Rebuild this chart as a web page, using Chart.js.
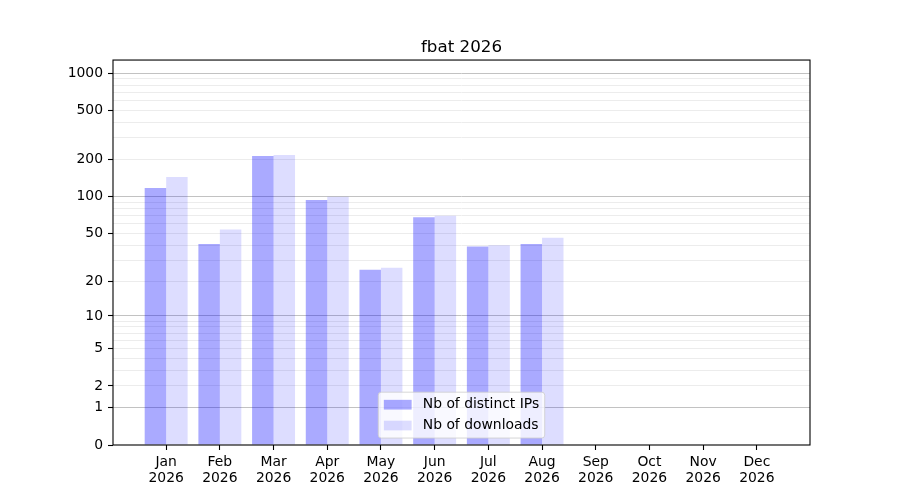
<!DOCTYPE html>
<html>
<head>
<meta charset="utf-8">
<title>fbat 2026</title>
<script src="https://cdn.jsdelivr.net/npm/chart.js@4.4.1/dist/chart.umd.min.js"></script>
<style>
  html, body { margin: 0; padding: 0; background: #fff; }
  #chart { display: block; }
</style>
</head>
<body>
<canvas id="chart" width="900" height="500"></canvas>
<script>
const TITLE = 'fbat 2026';
const YEAR = '2026';
const MONTHS = ['Jan', 'Feb', 'Mar', 'Apr', 'May', 'Jun', 'Jul', 'Aug', 'Sep', 'Oct', 'Nov', 'Dec'];
const SERIES_LABELS = ['Nb of distinct IPs', 'Nb of downloads'];

// Jan..Aug only, the rest of the year has no data yet
const DISTINCT_IPS = [118, 41, 214, 94, 25, 68, 39, 41];
const DOWNLOADS    = [145, 54, 218, 100, 26, 70, 40, 46];

const Y_MIN = 0;
const Y_MAX = 1280;
const Y_LABELED = [0, 1, 2, 5, 10, 20, 50, 100, 200, 500, 1000];
const Y_DECADES = [1, 10, 100, 1000];
const Y_MINOR   = [2, 3, 4, 5, 6, 7, 8, 9,
                   20, 30, 40, 50, 60, 70, 80, 90,
                   200, 300, 400, 500, 600, 700, 800, 900];

const FS = 13.9;
const FONT = 'DejaVu Sans';
const COLOR_IPS = 'rgba(0,0,255,0.333)';
const COLOR_DL  = 'rgba(0,0,255,0.133)';

// y axis is log10(1 + v), like matplotlib's function scale
class Log1pScale extends Chart.LinearScale {
  static id = 'log1p';
  static defaults = {};

  buildTicks() {
    const vals = Array.from(new Set([0, ...Y_DECADES, ...Y_MINOR])).sort((a, b) => a - b);
    return vals.filter(v => v >= this.min && v <= this.max).map(v => ({ value: v }));
  }
  configure() {
    super.configure();
    this._t0 = Math.log10(1 + this.min);
    this._t1 = Math.log10(1 + this.max);
  }
  getPixelForValue(value) {
    if (value === undefined || value === null || isNaN(value)) return NaN;
    return this.getPixelForDecimal((Math.log10(1 + value) - this._t0) / (this._t1 - this._t0));
  }
  getValueForPixel(pixel) {
    const d = this.getDecimalForPixel(pixel);
    return Math.pow(10, this._t0 + d * (this._t1 - this._t0)) - 1;
  }
}
Chart.register(Log1pScale);

const framePlugin = {
  id: 'frame',
  afterDatasetsDraw(chart) {
    const { ctx, chartArea: a } = chart;
    ctx.save();
    ctx.strokeStyle = '#000';
    ctx.lineWidth = 1.1;
    ctx.strokeRect(a.left, a.top, a.right - a.left, a.bottom - a.top);
    ctx.restore();
  }
};

// matplotlib-like legend, lower center inside the axes
const boxLegendPlugin = {
  id: 'boxLegend',
  afterDraw(chart) {
    const { ctx, chartArea: a } = chart;
    const pad = 0.4 * FS, handleLen = 2 * FS, handleH = 0.7 * FS;
    const textPad = 0.8 * FS, spacing = 0.5 * FS, rowH = FS;
    ctx.save();
    ctx.font = `${FS}px "${FONT}"`;
    const items = chart.data.datasets.map(ds => ({ label: ds.label, color: ds.backgroundColor }));
    const textW = Math.max(...items.map(it => ctx.measureText(it.label).width));
    const w = 2 * pad + handleLen + textPad + textW;
    const h = 2 * pad + items.length * rowH + (items.length - 1) * spacing;
    const x = (a.left + a.right) / 2 - w / 2;
    const y = a.bottom - 0.5 * FS - h;

    ctx.beginPath();
    ctx.roundRect(x, y, w, h, 3);
    ctx.fillStyle = 'rgba(255,255,255,0.8)';
    ctx.fill();
    ctx.strokeStyle = 'rgba(204,204,204,0.8)';
    ctx.lineWidth = 1;
    ctx.stroke();

    items.forEach((it, i) => {
      const cy = y + pad + rowH / 2 + i * (rowH + spacing);
      ctx.fillStyle = it.color;
      ctx.fillRect(x + pad, cy - handleH / 2, handleLen, handleH);
      ctx.fillStyle = '#000';
      ctx.textBaseline = 'middle';
      ctx.textAlign = 'left';
      ctx.fillText(it.label, x + pad + handleLen + textPad, cy);
    });
    ctx.restore();
  }
};

Chart.defaults.font.family = FONT;
Chart.defaults.font.size = FS;
Chart.defaults.color = '#000';

new Chart(document.getElementById('chart'), {
  type: 'bar',
  data: {
    datasets: [
      {
        label: SERIES_LABELS[0],
        data: DISTINCT_IPS.map((v, i) => ({ x: i, y: v })),
        backgroundColor: COLOR_IPS,
        borderWidth: 0,
      },
      {
        label: SERIES_LABELS[1],
        data: DOWNLOADS.map((v, i) => ({ x: i, y: v })),
        backgroundColor: COLOR_DL,
        borderWidth: 0,
      },
    ],
  },
  options: {
    responsive: false,
    animation: false,
    events: [],
    layout: { padding: { left: 0, right: 90, top: 0, bottom: 0 } },
    datasets: { bar: { barPercentage: 1, categoryPercentage: 0.8 } },
    plugins: {
      legend: { display: false },
      tooltip: { enabled: false },
      title: {
        display: true,
        text: TITLE,
        fullSize: false,
        color: '#000',
        font: { size: 16.7, weight: 'normal', lineHeight: 1.2 },
        padding: { top: 38, bottom: 2 },
      },
    },
    scales: {
      x: {
        type: 'linear',
        min: -0.99,
        max: 11.99,
        offset: false,
        afterBuildTicks: axis => { axis.ticks = MONTHS.map((m, i) => ({ value: i })); },
        afterFit: axis => { axis.height = 55; },
        border: { display: false },
        grid: {
          offset: false,
          drawOnChartArea: false,
          drawTicks: true,
          tickLength: 5,
          tickColor: '#000',
          tickWidth: 1.1,
        },
        ticks: {
          autoSkip: false,
          maxRotation: 0,
          padding: 4,
          color: '#000',
          font: { size: FS, lineHeight: 1.15 },
          callback: v => [MONTHS[v], YEAR],
        },
      },
      y: {
        type: 'log1p',
        min: Y_MIN,
        max: Y_MAX,
        afterFit: axis => { axis.width = 113; },
        border: { display: false },
        grid: {
          color: c => c.tick.value === 0 ? 'rgba(0,0,0,0)' :
                      (Y_DECADES.includes(c.tick.value) ? '#c2c2c2' : '#ececec'),
          lineWidth: 1,
          drawTicks: true,
          tickLength: 5,
          tickWidth: 1.1,
          tickColor: c => Y_LABELED.includes(c.tick.value) ? '#000' : 'rgba(0,0,0,0)',
        },
        ticks: {
          autoSkip: false,
          padding: 5,
          color: '#000',
          callback: v => Y_LABELED.includes(v) ? String(v) : '',
        },
      },
    },
  },
  plugins: [framePlugin, boxLegendPlugin],
});
</script>
</body>
</html>
